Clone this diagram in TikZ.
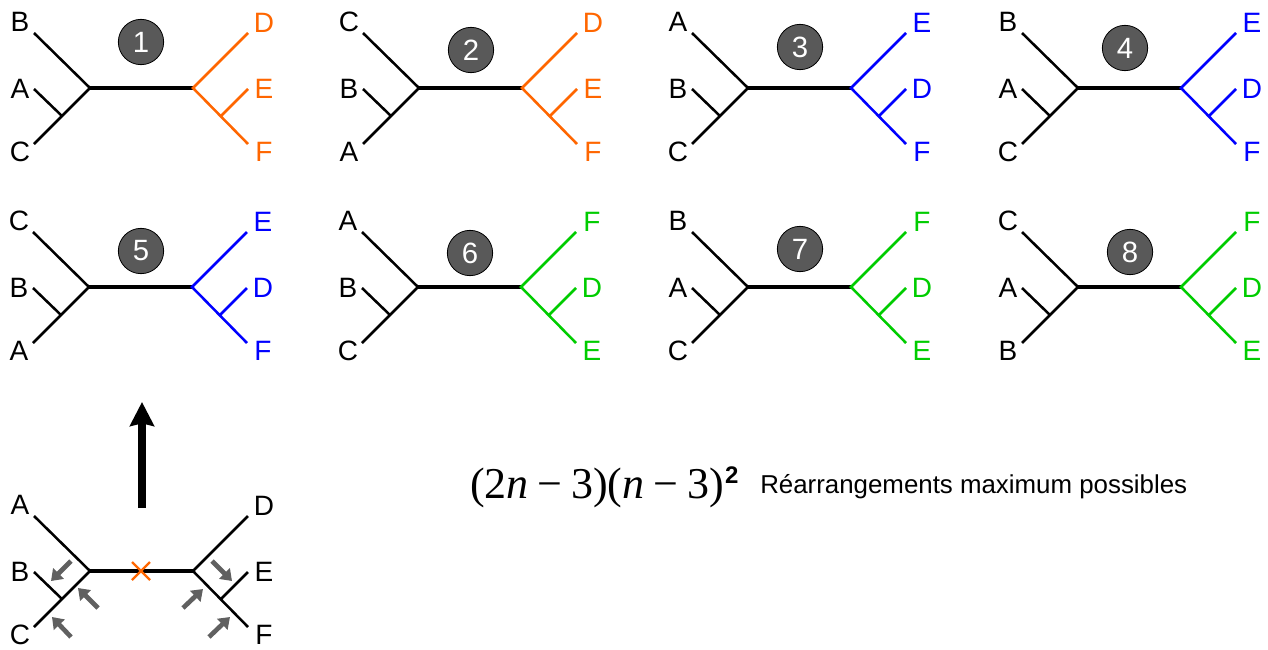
\documentclass[tikz,border=0pt]{standalone}
\usepackage{fontspec}
\setmainfont{Liberation Sans}
\newfontfamily\timesfont{Liberation Serif}
\usetikzlibrary{arrows.meta}

\definecolor{treeorange}{HTML}{FF6600}
\definecolor{treeblue}{HTML}{0000FF}
\definecolor{treegreen}{HTML}{00CC00}
\definecolor{badgegray}{HTML}{595959}
\definecolor{movegray}{HTML}{606060}

% unrooted tree on six leaves, drawn from its left inner vertex
% #1 name, #2 origin, #3-#5 left leaves (top/mid/bottom), #6-#8 right leaves, #9 colour of right part
\newcommand{\sixtree}[9]{%
  \begin{scope}[shift={(#2)}]
    \coordinate (#1-l) at (0,0);
    \coordinate (#1-r) at (103,0);
    \coordinate (#1-lj) at (-28,28);
    \coordinate (#1-rj) at (131,28);
    \coordinate (#1-a) at (-56,-55);
    \coordinate (#1-b) at (-56,1);
    \coordinate (#1-c) at (-56,56);
    \coordinate (#1-d) at (158,-55);
    \coordinate (#1-e) at (158,1);
    \coordinate (#1-f) at (158,56);
    \node[leaf] (#1-la) at (-70,-66) {#3};
    \node[leaf] (#1-lb) at (-70,1) {#4};
    \node[leaf] (#1-lc) at (-70,64) {#5};
    \node[leaf, #9] (#1-ld) at (174,-65) {#6};
    \node[leaf, #9] (#1-le) at (174,1) {#7};
    \node[leaf, #9] (#1-lf) at (174,64) {#8};
    \draw[edge, line width=2.4pt] (#1-l) -- (#1-r);
    \draw[edge] (#1-a) -- (#1-l) -- (#1-c);
    \draw[edge] (#1-b) -- (#1-lj);
    \draw[edge, #9] (#1-d) -- (#1-r) -- (#1-f);
    \draw[edge, #9] (#1-e) -- (#1-rj);
  \end{scope}}

\begin{document}
\begin{tikzpicture}[x=0.75pt, y=-0.75pt,
  leaf/.style={inner sep=0pt, font=\fontsize{21}{25}\selectfont},
  edge/.style={line width=1.9pt},
  badge/.style={circle, fill=badgegray, draw=black, line width=0.6pt, minimum size=34pt,
    inner sep=0pt, text=white, font=\fontsize{22}{26}\selectfont},
  move/.style={draw=movegray, line width=3.5pt, -{Triangle[length=8pt,width=11pt]}},
  bigarrow/.style={line width=5.5pt, -{Stealth[length=18pt,width=18pt,inset=2pt]}}]
  \useasboundingbox (0,0) rectangle (1268,650);

  % the eight rearranged trees
  \sixtree{t1}{90,88}{B}{A}{C}{D}{E}{F}{treeorange}
  \sixtree{t2}{419,88}{C}{B}{A}{D}{E}{F}{treeorange}
  \sixtree{t3}{748,88}{A}{B}{C}{E}{D}{F}{treeblue}
  \sixtree{t4}{1078,88}{B}{A}{C}{E}{D}{F}{treeblue}
  \sixtree{t5}{89,287}{C}{B}{A}{E}{D}{F}{treeblue}
  \sixtree{t6}{418,287}{A}{B}{C}{F}{D}{E}{treegreen}
  \sixtree{t7}{748,287}{B}{A}{C}{F}{D}{E}{treegreen}
  \sixtree{t8}{1078,287}{C}{A}{B}{F}{D}{E}{treegreen}

  \foreach \n/\p in {1/{141,42}, 2/{471,50}, 3/{800,47}, 4/{1125,48},
                     5/{141,251}, 6/{470,253}, 7/{800,249}, 8/{1130,252}}
    \node[badge] (n\n) at (\p) {\n};

  % starting tree, cut on the inner edge
  \sixtree{t0}{90,571}{A}{B}{C}{D}{E}{F}{black}
  \draw[treeorange, line width=1.8pt] (141,571) +(-9,-9) -- +(9,9) +(-9,9) -- +(9,-9);
  \foreach \a/\b in {{71,561}/{51,581}, {98,608}/{78,588}, {71,637}/{52,617},
                     {183,608}/{203,589}, {212,561}/{232,581}, {209,637}/{230,617}}
    \draw[move] (\a) -- (\b);

  \coordinate (up0) at (142,508);
  \coordinate (up1) at (142,402);
  \draw[bigarrow] (up0) -- (up1);

  \node[anchor=base west, inner sep=0pt] (count) at (470,498)
    {{\timesfont\fontsize{33}{38}\selectfont (2\textit{n}\hspace{0.2em}−\hspace{0.2em}3)(\textit{n}\hspace{0.2em}−\hspace{0.2em}3)}\hspace{1pt}\raisebox{11pt}{\fontsize{18}{22}\selectfont\bfseries 2}};
  \node[anchor=base west, inner sep=0pt, font=\fontsize{19.4}{23}\selectfont] (rearr) at (760,493)
    {Réarrangements maximum possibles};
\end{tikzpicture}
\end{document}
